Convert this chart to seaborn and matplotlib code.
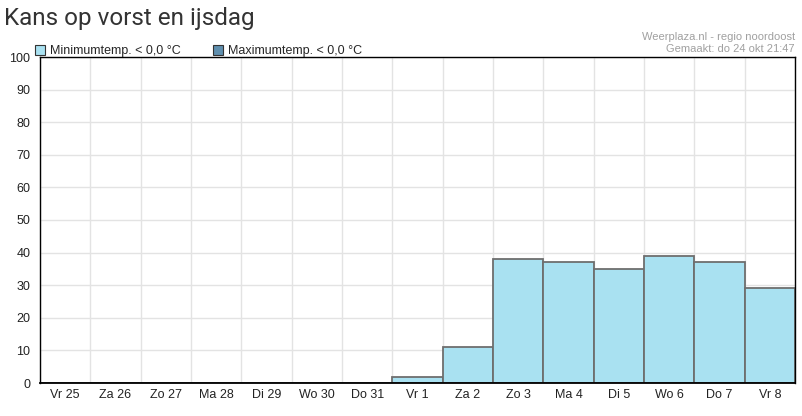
import numpy as np
import matplotlib
matplotlib.use("Agg")
import matplotlib.pyplot as plt
from matplotlib.patches import Patch
import seaborn as sns

# --- data ---
days = ["Vr 25", "Za 26", "Zo 27", "Ma 28", "Di 29", "Wo 30", "Do 31",
        "Vr 1", "Za 2", "Zo 3", "Ma 4", "Di 5", "Wo 6", "Do 7", "Vr 8"]
min_temp_kans = [0, 0, 0, 0, 0, 0, 0, 1.7, 11, 38, 37, 35, 39, 37, 29]
max_temp_kans = [0] * 15
y_ticks = list(range(0, 101, 10))

min_color = "#a9e1f1"
max_color = "#5f8fae"

sns.set_style("white")
plt.rcParams['font.family'] = ['Liberation Sans', 'DejaVu Sans']

fig = plt.figure(figsize=(8.02, 4.16), dpi=100)
ax = fig.add_axes([40 / 802, 33 / 416, 755 / 802, 326 / 416])

sns.barplot(x=days, y=min_temp_kans, ax=ax, width=1.0, color=min_color,
            saturation=1, edgecolor="#6e6e6e", linewidth=1.3)

# axes and grid
ax.set_xlim(-0.5, len(days) - 0.5)
ax.set_ylim(0, 100)
ax.set_yticks(y_ticks)
ax.set_xticks(np.arange(-0.5, len(days), 1))
ax.set_xticklabels([])
ax.set_xticks(range(len(days)), minor=True)
ax.set_xticklabels(days, minor=True)
ax.tick_params(axis="x", which="major", length=5, width=1, color="black")
ax.tick_params(axis="x", which="minor", length=0, pad=4, labelsize=9, labelcolor="#222222")
ax.tick_params(axis="y", length=5, width=1, color="black", pad=2, labelsize=9, labelcolor="#222222")
ax.grid(True, which="major", color="#e3e3e3", linewidth=1)
ax.set_axisbelow(True)
for s in ax.spines.values():
    s.set_color("black")
    s.set_linewidth(1)
ax.spines["bottom"].set_linewidth(1.3)

# legend above plot
handles = [Patch(facecolor=min_color, edgecolor="#333333", linewidth=0.8, label="Minimumtemp. < 0,0 °C"),
           Patch(facecolor=max_color, edgecolor="#333333", linewidth=0.8, label="Maximumtemp. < 0,0 °C")]
ax.legend(handles=handles, loc="lower left", bbox_to_anchor=(-0.008, 0.995), ncol=2,
          frameon=False, fontsize=9, handlelength=0.8, handleheight=0.8,
          handletextpad=0.4, columnspacing=2.6, borderaxespad=0, borderpad=0.1)

# title and source text
fig.text(4 / 802, 1 - 18 / 416, "Kans op vorst en ijsdag", fontsize=17.5, color="#333333",
         family=["Roboto", "DejaVu Sans"], va="center", ha="left")
fig.text(795 / 802, 1 - 37 / 416, "Weerplaza.nl - regio noordoost", fontsize=8,
         color="#a0a0a0", ha="right", va="center")
fig.text(795 / 802, 1 - 49 / 416, "Gemaakt: do 24 okt 21:47", fontsize=8,
         color="#a0a0a0", ha="right", va="center")

fig.savefig("out.png", dpi=100)
